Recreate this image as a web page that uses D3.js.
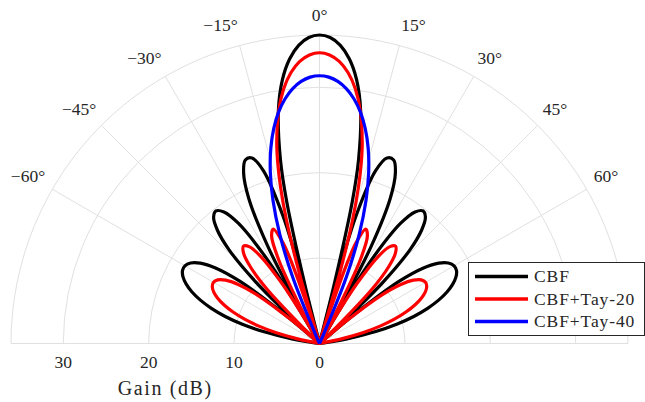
<!DOCTYPE html>
<html>
<head>
<meta charset="utf-8">
<script src="https://cdn.jsdelivr.net/npm/d3@7"></script>
<style>
html,body{margin:0;padding:0;background:#fff;}
svg{display:block;}
</style>
</head>
<body>
<svg id="chart" width="645" height="402"></svg>
<script>
// ---- data: [angle (deg), gain (dB, clipped at 0)] ----
const seriesNames = ["CBF", "CBF+Tay-20", "CBF+Tay-40"];
const seriesColors = ["#000000", "#ff0000", "#0000ff"];

const cbf = [
  [-82,0],[-81,1.82],[-80,3.63],[-78,6.73],[-76,9.31],[-74,11.48],[-72,13.31],[-70,14.84],
  [-68,16.10],[-66,17.08],[-64,17.78],[-62,18.17],[-60,18.20],[-58,17.80],[-56,16.84],
  [-54,15.05],[-52,11.80],[-50,4.70],[-48.59,0],[-47,6.18],[-46,10.43],[-44,15.24],
  [-42,17.88],[-40,19.29],[-38,19.69],[-36,19.04],[-34,16.95],[-32,11.98],[-31,6.35],
  [-30,0],[-29,6.85],[-28,12.97],[-26,18.89],[-24,21.84],[-22,23.18],[-20,23.11],
  [-18,21.28],[-16,15.62],[-15,7.00],[-14.48,0],[-14,6.79],[-13,17.10],[-12,22.00],
  [-10,27.72],[-8,31.20],[-6,33.50],[-4,35.00],[-2,35.85],
  [0,36.12],
  [2,35.85],[4,35.00],[6,33.50],[8,31.20],[10,27.72],[12,22.00],[13,17.10],[14,6.79],
  [14.48,0],[15,7.00],[16,15.62],[18,21.28],[20,23.11],[22,23.18],[24,21.84],[26,18.89],
  [28,12.97],[29,6.85],[30,0],[31,6.35],[32,11.98],[34,16.95],[36,19.04],[38,19.69],
  [40,19.29],[42,17.88],[44,15.24],[46,10.43],[47,6.18],[48.59,0],[50,4.70],[52,11.80],
  [54,15.05],[56,16.84],[58,17.80],[60,18.20],[62,18.17],[64,17.78],[66,17.08],[68,16.10],
  [70,14.84],[72,13.31],[74,11.48],[76,9.31],[78,6.73],[80,3.63],[81,1.82],[82,0]
];

const tay20 = [
  [-79.6,0],[-78,2.63],[-76,5.21],[-74,7.38],[-72,9.22],[-70,10.77],[-68,12.04],[-66,13.05],
  [-64,13.79],[-62,14.22],[-60,14.33],[-58,14.05],[-56,13.26],[-54,11.77],[-52,9.17],
  [-50,4.18],[-47.8,0],[-46,2.48],[-44,8.91],[-42,12.13],[-40,13.84],[-38,14.46],
  [-36,14.02],[-34,12.28],[-32,8.28],[-31,4.35],[-29.4,0],[-28,3.65],[-26,10.88],
  [-24,13.79],[-22,14.44],[-20,12.63],[-19,10.04],[-18,4.31],[-17.2,0],[-16,8.73],
  [-15,14.88],[-14,18.81],[-13,21.75],[-12,24.07],[-10,27.60],[-8,30.12],[-6,31.90],
  [-4,33.11],[-2,33.81],
  [0,34.04],
  [2,33.81],[4,33.11],[6,31.90],[8,30.12],[10,27.60],[12,24.07],[13,21.75],[14,18.81],
  [15,14.88],[16,8.73],[17.2,0],[18,4.31],[19,10.04],[20,12.63],[22,14.44],[24,13.79],
  [26,10.88],[28,3.65],[29.4,0],[31,4.35],[32,8.28],[34,12.28],[36,14.02],[38,14.46],
  [40,13.84],[42,12.13],[44,8.91],[46,2.48],[47.8,0],[50,4.18],[52,9.17],[54,11.77],
  [56,13.26],[58,14.05],[60,14.33],[62,14.22],[64,13.79],[66,13.05],[68,12.04],[70,10.77],
  [72,9.22],[74,7.38],[76,5.21],[78,2.63],[79.6,0]
];

const tay40 = [
  [-24.3,0],[-24,1.11],[-22,8.42],[-20,13.59],[-18,17.63],[-16,20.89],[-14,23.56],
  [-12,25.74],[-10,27.53],[-8,28.94],[-6,30.01],[-4,30.76],[-2,31.21],
  [0,31.35],
  [2,31.21],[4,30.76],[6,30.01],[8,28.94],[10,27.53],[12,25.74],[14,23.56],[16,20.89],
  [18,17.63],[20,13.59],[22,8.42],[24,1.11],[24.3,0]
];

const radialTicks = [0, 10, 20, 30];
const thetaTicks = [-60, -45, -30, -15, 0, 15, 30, 45, 60];
const radialLabel = "Gain (dB)";

// ---- layout ----
const W = 645, H = 402;
const cx = 319.5, cy = 343.5, R = 308.5;
const gridColor = "#e0e0e0";
const FONT = '"Liberation Serif", "Times New Roman", serif';
const textColor = "#262626";

const svg = d3.select("#chart");
svg.append("rect").attr("width", W).attr("height", H).attr("fill", "#fff");

const series = [cbf, tay20, tay40];
const rMax = d3.max(series.flat(), d => d[1]);
const r = d3.scaleLinear().domain([0, rMax]).range([0, R]);
const rad = d => d * Math.PI / 180;

const g = svg.append("g").attr("transform", `translate(${cx},${cy})`);

// grid
const grid = g.append("g").attr("fill", "none").attr("stroke", gridColor).attr("stroke-width", 1);
radialTicks.filter(v => v > 0).concat([rMax]).forEach(v => {
  const p = d3.path();
  p.moveTo(-r(v), 0);
  p.arc(0, 0, r(v), Math.PI, 2 * Math.PI);
  grid.append("path").attr("d", p.toString());
});
grid.append("line").attr("x1", -r(rMax)).attr("x2", r(rMax)).attr("y1", 0).attr("y2", 0);
thetaTicks.forEach(t => {
  grid.append("line")
    .attr("x1", 0).attr("y1", 0)
    .attr("x2", r(rMax) * Math.sin(rad(t)))
    .attr("y2", -r(rMax) * Math.cos(rad(t)));
});

// curves
const line = d3.lineRadial()
  .angle(d => rad(d[0]))
  .radius(d => r(d[1]))
  .curve(d3.curveCatmullRom.alpha(0.5));

series.forEach((s, i) => {
  g.append("path")
    .attr("d", line(s))
    .attr("fill", "none")
    .attr("stroke", seriesColors[i])
    .attr("stroke-width", 3.2)
    .attr("stroke-linejoin", "round");
});

function addText(parent, x, y, str, size, anchor, spacing) {
  const t = parent.append("text")
    .attr("x", x).attr("y", y)
    .attr("text-anchor", anchor)
    .style("font-family", FONT)
    .style("font-size", size + "px")
    .style("fill", textColor)
    .text(str);
  if (spacing) t.style("letter-spacing", spacing + "px");
  return t;
}

// radial tick labels
radialTicks.forEach(v => addText(g, -r(v), 24.5, String(v), 17.5, "middle"));
addText(g, -r(rMax) / 2, 51.5, radialLabel, 20, "middle", 1.6);

// theta tick labels
const r0 = R + 13.5;
thetaTicks.forEach(t => {
  const s = Math.sign(t);
  const px = r0 * Math.sin(rad(t)) - s * 4.5 * Math.min(Math.abs(t) / 45, 1);
  const py = -r0 * Math.cos(rad(t)) - 1;
  addText(g, px, py, (t < 0 ? "\u2212" : "") + Math.abs(t) + "\u00B0", 17.5,
          t > 0 ? "start" : (t < 0 ? "end" : "middle"));
});

// legend
const leg = svg.append("g");
leg.append("rect")
  .attr("x", 468.5).attr("y", 262.5).attr("width", 176).attr("height", 73)
  .attr("fill", "#fff").attr("stroke", "#262626").attr("stroke-width", 1);
seriesNames.forEach((name, i) => {
  const y = 276.5 + i * 22.5;
  leg.append("line")
    .attr("x1", 475).attr("x2", 528).attr("y1", y).attr("y2", y)
    .attr("stroke", seriesColors[i]).attr("stroke-width", 3.5);
  addText(leg, 534, y + 5.5, name, 17.5, "start", 0.9);
});
</script>
</body>
</html>
